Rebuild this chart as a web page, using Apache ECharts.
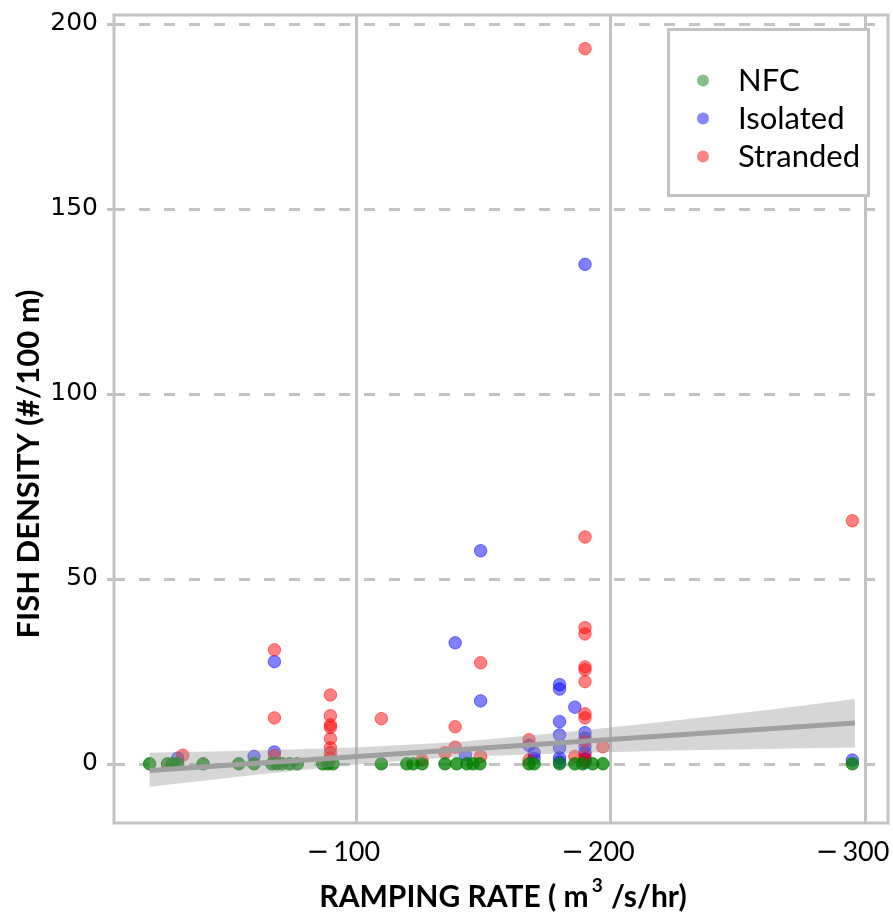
<!DOCTYPE html>
<html>
<head>
<meta charset="utf-8">
<script src="https://cdn.jsdelivr.net/npm/echarts@6/dist/echarts.min.js"></script>
<style>
html,body{margin:0;padding:0;background:#fff;}
#c{width:893px;height:913px;}
</style>
</head>
<body>
<div id="c"></div>
<script>
// ---- data ----
const xTicks = [-100, -200, -300];
const yTicks = [0, 50, 100, 150, 200];

const nfcX = [-19, -26, -28, -30, -40, -54, -60, -67, -69, -71, -74, -77, -87, -89, -91, -110, -120, -122.5, -126, -135, -139.6, -143.6, -146, -148.7, -168, -170, -180, -186, -189, -193, -197, -295];
const nfcY = [0, 0, 0, 0, 0, 0, 0, 0, 0, 0, 0, 0, 0, 0, 0, 0, 0, 0, 0, 0, 0, 0, 0, 0, 0, 0, 0, 0, 0, 0, 0, 0];

const isoX = [-30, -60, -68, -68, -139, -143, -149, -149, -168, -170, -170, -180, -180, -180, -180, -180, -180, -180, -186, -190, -190, -190, -190, -190, -190, -190, -295];
const isoY = [1.5, 2, 3.2, 27.6, 32.7, 2.4, 57.6, 17, 5, 3, 1.5, 21.4, 20.2, 11.4, 7.8, 4.3, 1.6, 0.5, 15.3, 135, 8.4, 7, 4.6, 3, 1.2, 0.3, 1];

const strX = [-32, -68, -68, -68, -90, -90, -90, -90, -90, -90, -90, -90, -110, -126, -135, -139, -139, -149, -149, -168, -168, -186, -190, -190, -190, -190, -190, -190, -190, -190, -190, -190, -190, -190, -197, -295];
const strY = [2.3, 30.8, 12.4, 2.2, 18.6, 13, 10.5, 9.8, 6.8, 4.3, 3, 1.5, 12.2, 1, 3, 10, 4.5, 27.3, 2, 6.5, 1, 2, 193.3, 61.3, 36.8, 35.1, 26.2, 25.4, 22.2, 13.5, 12.4, 6, 2, 0.8, 4.6, 65.7];

const fitX = [-19, -296];
const fitY = [-1.8, 11.0];

const bandX  = [-19, -60, -100, -140, -180, -220, -260, -296];
const bandLo = [-6.2, -3.0, -0.2, 1.9, 2.8, 3.5, 4.0, 4.4];
const bandHi = [3.0, 3.6, 4.4, 5.9, 8.4, 11.3, 14.4, 17.5];

const seriesNames = ['NFC', 'Isolated', 'Stranded'];
// ---------------------------------------

const GRID = '#c3c3c3';
const pairs = (xs, ys) => xs.map((x, i) => [x, ys[i]]);

const chart = echarts.init(document.getElementById('c'), null, {renderer: 'canvas'});

function pointStyle(rgb, a) {
  const c = 'rgba(' + rgb + ',' + a + ')';
  return {color: c, borderColor: c, borderWidth: 1};
}

const option = {
  animation: false,
  backgroundColor: '#fff',
  grid: {
    left: 114, right: 5, top: 15, bottom: 90,
    show: true, borderColor: GRID, borderWidth: 3, backgroundColor: 'transparent'
  },
  xAxis: {
    type: 'value', inverse: true, min: -309, max: -5,
    axisLine: {show: false},
    axisTick: {show: true, customValues: xTicks, length: 9, lineStyle: {color: GRID, width: 3}},
    splitLine: {show: true, lineStyle: {color: GRID, width: 3, type: 'solid'}},
    axisLabel: {
      customValues: xTicks, margin: 16,
      color: '#000',
      padding: [0, 25, 0, 0],
      formatter: v => '{m|\u2212}{n|' + Math.abs(v) + '}',
      rich: {
        m: {fontFamily: 'DejaVu Sans', fontSize: 27, color: '#000', padding: [0, 4, 0, 0]},
        n: {fontFamily: 'Lato', fontSize: 27, color: '#000'}
      }
    }
  },
  yAxis: {
    type: 'value', min: -16, max: 202.4,
    axisLine: {show: false},
    axisTick: {show: true, customValues: yTicks, length: 7, lineStyle: {color: GRID, width: 3}},
    splitLine: {show: true, lineStyle: {color: GRID, width: 3, type: [11, 14]}},
    axisLabel: {
      customValues: yTicks, margin: 16,
      fontFamily: 'DejaVu Sans', fontSize: 25, color: '#000'
    }
  },
  legend: {
    orient: 'vertical', left: 697, top: 65, padding: 0,
    itemWidth: 12, itemHeight: 12, itemGap: 7,
    icon: 'circle',
    textStyle: {fontFamily: 'Lato', fontSize: 31, color: '#000', padding: [0, 0, 0, 24]},
    z: 12,
    data: [
      {name: 'NFC', itemStyle: {color: 'rgba(0,128,0,0.6)', borderWidth: 0}},
      {name: 'Isolated', itemStyle: {color: 'rgba(0,0,255,0.6)', borderWidth: 0}},
      {name: 'Stranded', itemStyle: {color: 'rgba(255,0,0,0.6)', borderWidth: 0}}
    ]
  },
  graphic: [
    {type: 'rect', left: 667, top: 28, z: 10,
     shape: {width: 200, height: 166},
     style: {fill: '#fff', stroke: GRID, lineWidth: 3}},
    {type: 'text', x: 29, y: 464, rotation: Math.PI / 2, z: 10,
     style: {text: 'FISH DENSITY (#/100 m)', font: 'bold 31px Lato', fill: '#000',
             align: 'center', verticalAlign: 'middle'}},
    {type: 'text', x: 503, y: 894, z: 10,
     style: {text: '{t|RAMPING RATE ( m}{sup|3}{t| /s/hr)}', fill: '#000',
             align: 'center', verticalAlign: 'middle',
             rich: {
               t: {fontFamily: 'Lato', fontWeight: 'bold', fontSize: 30, lineHeight: 36, verticalAlign: 'bottom'},
               sup: {fontFamily: 'Lato', fontWeight: 'bold', fontSize: 19, lineHeight: 19, verticalAlign: 'top', padding: [0, 1, 0, 3]}
             }}}
  ],
  series: [
    {name: 'Isolated', type: 'scatter', symbolSize: 12.5, data: pairs(isoX, isoY),
     itemStyle: pointStyle('0,0,255', 0.62), z: 2},
    {name: 'Stranded', type: 'scatter', symbolSize: 12.5, data: pairs(strX, strY),
     itemStyle: pointStyle('255,0,0', 0.62), z: 2},
    {name: 'NFC', type: 'scatter', symbolSize: 12.5, data: pairs(nfcX, nfcY),
     itemStyle: pointStyle('0,128,0', 0.95), z: 2},
    {name: 'band', type: 'custom', silent: true, z: 3,
     data: pairs(bandX, bandLo),
     encode: {x: 0, y: 1},
     renderItem: function (params, api) {
       if (params.dataIndex !== 0) return null;
       const pts = [];
       for (let i = 0; i < bandX.length; i++) pts.push(api.coord([bandX[i], bandHi[i]]));
       for (let i = bandX.length - 1; i >= 0; i--) pts.push(api.coord([bandX[i], bandLo[i]]));
       return {type: 'polygon', shape: {points: pts}, style: {fill: 'rgba(153,153,153,0.4)'}};
     }},
    {name: 'fit', type: 'line', data: pairs(fitX, fitY), symbol: 'none', silent: true, z: 4,
     lineStyle: {color: '#a0a0a0', width: 5}}
  ]
};
chart.setOption(option);
</script>
</body>
</html>
